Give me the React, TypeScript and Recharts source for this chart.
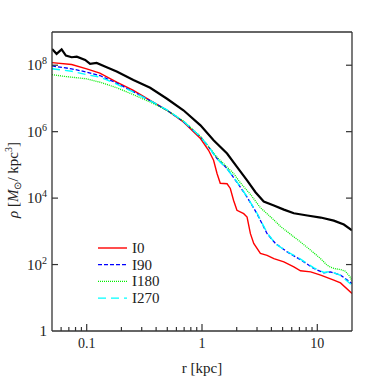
import { LineChart, Line, XAxis, YAxis } from 'recharts';

// radius (kpc) and density (Msun/kpc^3)
const rAll = [0.05, 0.0548, 0.0606, 0.066, 0.074, 0.082, 0.097, 0.107, 0.122, 0.149, 0.182, 0.254, 0.355, 0.497, 0.69, 0.97, 1.26, 1.65, 2.01, 2.46, 2.91, 3.43, 4.2, 5.13, 6.26, 8.19, 10.7, 13.9, 17, 20];
const rhoAll = [3.1e8, 2.2e8, 3.0e8, 1.95e8, 1.74e8, 1.8e8, 1.45e8, 1.1e8, 1.17e8, 8.7e7, 6.5e7, 3.6e7, 2.1e7, 9.8e6, 4.4e6, 1.55e6, 5.5e5, 2.2e5, 8.7e4, 3.4e4, 1.5e4, 7.9e3, 6.0e3, 4.5e3, 3.5e3, 3.0e3, 2.6e3, 2.1e3, 1.6e3, 1.07e3];

const rI0 = [0.05, 0.074, 0.1, 0.13, 0.182, 0.254, 0.355, 0.497, 0.69, 0.97, 1.14, 1.26, 1.35, 1.44, 1.65, 1.76, 1.88, 2.01, 2.3, 2.46, 2.63, 2.81, 3.21, 3.67, 4.2, 5.13, 6.26, 7.15, 8.76, 10.7, 13.9, 15.9, 20];
const rhoI0 = [1.2e8, 1.05e8, 7.8e7, 5.8e7, 3.1e7, 1.74e7, 8.7e6, 4.4e6, 1.95e6, 6.2e5, 2.75e5, 1.38e5, 5.5e4, 2.8e4, 2.7e4, 1.95e4, 8.5e3, 4.3e3, 3.4e3, 2.7e3, 850, 430, 215, 190, 150, 120, 85, 65, 60, 48, 34, 28, 13.5];

const rI90 = [0.05, 0.074, 0.1, 0.13, 0.182, 0.254, 0.355, 0.497, 0.69, 0.97, 1.14, 1.35, 1.65, 2.01, 2.46, 3.0, 3.67, 4.34, 5.48, 7.15, 9.34, 11.4, 13, 15.9, 20];
const rhoI90 = [9.5e7, 7.8e7, 6.2e7, 4.9e7, 2.9e7, 1.6e7, 8.5e6, 4.4e6, 2.0e6, 6.9e5, 3.5e5, 1.55e5, 7.8e4, 3.0e4, 1.07e4, 3.4e3, 850, 430, 240, 140, 76, 56, 60, 48, 27];

const rI180 = [0.05, 0.0645, 0.1, 0.13, 0.182, 0.254, 0.355, 0.497, 0.69, 0.97, 1.35, 1.88, 2.15, 2.63, 3.2, 4.2, 4.8, 5.9, 7.15, 8.76, 10.7, 12, 13, 14.5, 15.9, 17.5, 19.2, 20];
const rhoI180 = [5.2e7, 4.6e7, 3.9e7, 3.1e7, 2.1e7, 1.3e7, 7.8e6, 4.4e6, 2.1e6, 7.2e5, 1.7e5, 5.5e4, 2.9e4, 1.3e4, 5.2e3, 2.2e3, 1.4e3, 800, 480, 270, 150, 100, 83, 74, 71, 63, 43, 32];

const rI270 = rI90;
const rhoI270 = [7.8e7, 6.6e7, 5.2e7, 4.4e7, 2.7e7, 1.55e7, 8.6e6, 4.5e6, 2.05e6, 7.0e5, 3.6e5, 1.5e5, 7.6e4, 3.1e4, 1.1e4, 3.5e3, 900, 420, 245, 145, 80, 58, 62, 47, 24];

const X_TICKS = [0.06, 0.07, 0.08, 0.09, 0.1, 0.2, 0.3, 0.4, 0.5, 0.6, 0.7, 0.8, 0.9, 1, 2, 3, 4, 5, 6, 7, 8, 9, 10];
const X_LABELS = [0.1, 1, 10];
const Y_TICKS = [1, 1e2, 1e4, 1e6, 1e8];

const toPoints = (r: number[], rho: number[]) => r.map((v, i) => ({ r: v, rho: rho[i] }));

const series = [
  { name: 'all', data: toPoints(rAll, rhoAll), color: '#000000', width: 2.2, dash: undefined, legend: false },
  { name: 'I0', data: toPoints(rI0, rhoI0), color: '#ff0000', width: 1.4, dash: undefined, legend: true },
  { name: 'I90', data: toPoints(rI90, rhoI90), color: '#0000ff', width: 1.3, dash: '4 2', legend: true },
  { name: 'I180', data: toPoints(rI180, rhoI180), color: '#00ee00', width: 1.3, dash: '1 1', legend: true },
  { name: 'I270', data: toPoints(rI270, rhoI270), color: '#00ffff', width: 1.4, dash: '8 5', legend: true },
];

const AX = '#333333';
const FONT = 'Liberation Serif';

const BottomTick = ({ x, y, payload }: any) => {
  const major = X_LABELS.includes(payload.value);
  return (
    <g>
      <line x1={x} x2={x} y1={y} y2={y - (major ? 7 : 4)} stroke={AX} strokeWidth={1.2} />
      {major && (
        <text x={x} y={y + 17} textAnchor='middle' fontSize={14} fill='#222' style={{ fontFamily: FONT }}>
          {payload.value}
        </text>
      )}
    </g>
  );
};

const TopTick = ({ x, y, payload }: any) => {
  const major = X_LABELS.includes(payload.value);
  return <line x1={x} x2={x} y1={y} y2={y + (major ? 7 : 4)} stroke={AX} strokeWidth={1.2} />;
};

const LeftTick = ({ x, y, payload }: any) => {
  const exp = Math.round(Math.log10(payload.value));
  return (
    <g>
      {exp > 0 && <line x1={x} x2={x + 6} y1={y} y2={y} stroke={AX} strokeWidth={1.2} />}
      <text x={x - 5} y={y + 5} textAnchor='end' fontSize={15} fill='#222' style={{ fontFamily: FONT }}>
        {exp === 0 ? (
          '1'
        ) : (
          <>
            <tspan>10</tspan>
            <tspan dy={-6} fontSize={10}>{exp}</tspan>
          </>
        )}
      </text>
    </g>
  );
};

const RightTick = ({ x, y, payload }: any) => {
  if (payload.value === 1) return <g />;
  return <line x1={x} x2={x - 6} y1={y} y2={y} stroke={AX} strokeWidth={1.2} />;
};

export default function App() {
  const legendItems = series.filter((s) => s.legend);
  return (
    <div style={{ position: 'absolute', left: 0, top: 0, width: 382, height: 382, fontFamily: FONT, background: '#fff' }}>
      <LineChart width={382} height={382} margin={{ top: 31, right: 29, bottom: 50, left: 51 }}>
        <XAxis
          dataKey='r'
          type='number'
          scale='log'
          domain={[0.05, 20]}
          allowDataOverflow
          ticks={X_TICKS}
          tick={<BottomTick />}
          tickLine={false}
          tickSize={0}
          tickMargin={0}
          height={1}
          axisLine={{ stroke: AX, strokeWidth: 1.3 }}
          interval={0}
        />
        <XAxis
          xAxisId='top'
          orientation='top'
          type='number'
          scale='log'
          domain={[0.05, 20]}
          allowDataOverflow
          ticks={X_TICKS}
          tick={<TopTick />}
          tickLine={false}
          tickSize={0}
          tickMargin={0}
          height={1}
          axisLine={{ stroke: AX, strokeWidth: 1.3 }}
          interval={0}
        />
        <YAxis
          dataKey='rho'
          type='number'
          scale='log'
          domain={[1, 1e9]}
          allowDataOverflow
          ticks={Y_TICKS}
          tick={<LeftTick />}
          tickLine={false}
          tickSize={0}
          tickMargin={0}
          width={1}
          axisLine={{ stroke: AX, strokeWidth: 1.3 }}
          interval={0}
        />
        <YAxis
          yAxisId='right'
          orientation='right'
          type='number'
          scale='log'
          domain={[1, 1e9]}
          allowDataOverflow
          ticks={Y_TICKS}
          tick={<RightTick />}
          tickLine={false}
          tickSize={0}
          tickMargin={0}
          width={1}
          axisLine={{ stroke: AX, strokeWidth: 1.3 }}
          interval={0}
        />
        {series.map((s) => (
          <Line
            key={s.name}
            data={s.data}
            dataKey='rho'
            name={s.name}
            type='linear'
            stroke={s.color}
            strokeWidth={s.width}
            strokeDasharray={s.dash}
            dot={false}
            isAnimationActive={false}
          />
        ))}
      </LineChart>
      <svg width={382} height={382} style={{ position: 'absolute', left: 0, top: 0, pointerEvents: 'none', fontFamily: FONT }}>
        <text x={202} y={373} textAnchor='middle' fontSize={15} fill='#222'>
          r [kpc]
        </text>
        <text transform='translate(18,180) rotate(-90)' textAnchor='middle' fontSize={15} fill='#222'>
          <tspan fontStyle='italic'>ρ</tspan>
          <tspan> [</tspan>
          <tspan fontStyle='italic'>M</tspan>
          <tspan dy={3} fontSize={10}>⊙</tspan>
          <tspan dy={-3}>/ kpc</tspan>
          <tspan dy={-6} fontSize={10}>3</tspan>
          <tspan dy={6}>]</tspan>
        </text>
        {legendItems.map((s, i) => {
          const y = 248 + i * 16.7;
          return (
            <g key={s.name}>
              <line x1={98} x2={127} y1={y} y2={y} stroke={s.color} strokeWidth={s.width} strokeDasharray={s.dash} />
              <text x={132} y={y + 5} fontSize={15} fill='#222'>
                {s.name}
              </text>
            </g>
          );
        })}
      </svg>
    </div>
  );
}
